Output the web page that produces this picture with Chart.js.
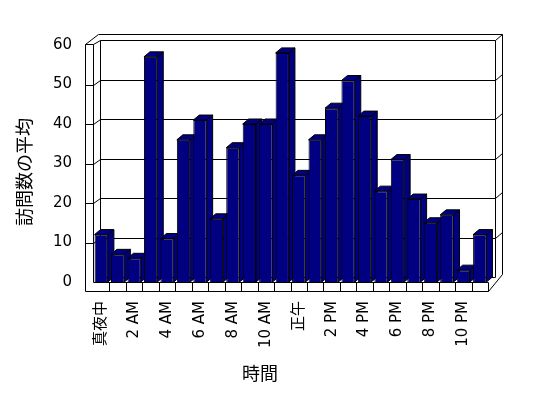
<!DOCTYPE html>
<html>
<head>
<meta charset="utf-8">
<script src="https://cdn.jsdelivr.net/npm/chart.js@4/dist/chart.umd.min.js"></script>
<style>
  html, body { margin: 0; padding: 0; background: #fff; }
  canvas { display: block; }
</style>
</head>
<body>
<canvas id="myChart" width="548" height="398"></canvas>
<script>
const hours = ['真夜中', '1 AM', '2 AM', '3 AM', '4 AM', '5 AM', '6 AM', '7 AM', '8 AM', '9 AM', '10 AM', '11 AM',
  '正午', '1 PM', '2 PM', '3 PM', '4 PM', '5 PM', '6 PM', '7 PM', '8 PM', '9 PM', '10 PM', '11 PM'];
const avgVisits = [12, 7, 6, 57, 11, 36, 41, 16, 34, 40, 40, 58, 27, 36, 44, 51, 42, 23, 31, 21, 15, 17, 3, 12];
const yTicks = [0, 10, 20, 30, 40, 50, 60];
const xTitle = '時間';
const yTitle = '訪問数の平均';

const FONT = '"DejaVu Sans", "Noto Sans CJK JP", sans-serif';
const NAVY = '#000080';

// fake 3D: walls, floor, bar tops and sides
const box3d = {
  id: 'box3d',
  beforeDatasetsDraw(chart) {
    const ctx = chart.ctx;
    const { left: L, right: R, top: T, bottom: B } = chart.chartArea;
    const ys = chart.scales.y;
    const dx = 7, dy = -5;   // back wall offset
    const ox = 502, oy = 34; // outer wall edges
    const line = (x1, y1, x2, y2) => {
      ctx.beginPath();
      ctx.moveTo(Math.round(x1) + 0.5, Math.round(y1) + 0.5);
      ctx.lineTo(Math.round(x2) + 0.5, Math.round(y2) + 0.5);
      ctx.stroke();
    };
    ctx.save();
    ctx.strokeStyle = '#000';
    ctx.lineWidth = 1;

    // back wall + top edge
    line(L + dx, T + dy, R + dx, T + dy);
    line(L + 5, oy, ox, oy);
    line(R + dx, T + dy, ox, oy);
    line(ox, oy, ox, B + dy - 3);
    line(R + dx, T + dy, R + dx, B + dy);
    // left wall
    line(L - 8, T - 1, L, T - 1);
    line(L - 8, T - 1, L + 5, oy);
    line(L, T - 1, L + dx, T + dy);
    line(L - 8, T - 1, L - 8, B + 9);
    line(L, T - 1, L, B);
    line(L + dx, T + dy, L + dx, B + dy);

    // gridlines
    yTicks.forEach(v => {
      if (v === 0 || v === 60) return;
      const yf = ys.getPixelForValue(v);
      const yb = yf + dy;
      line(L - 8, yf, L, yf);
      line(L, yf, L + dx, yb);
      line(L + dx, yb, R + dx, yb);
      line(R + dx, yb, ox, yb - 6);
    });
    line(L + dx, B + dy, R + dx, B + dy);

    // floor front face
    line(L, B, R, B);
    line(L - 8, B + 9, R, B + 9);
    line(R, B, R, B + 9);
    const slot = (R - L) / hours.length;
    for (let k = 1; k < hours.length; k++) {
      line(L + k * slot, B, L + k * slot, B + 9);
    }
    line(R, B + 9, ox, B + dy - 3);

    // bar tops and sides
    const bx = 6, by = -5;
    const meta = chart.getDatasetMeta(0);
    meta.data.forEach(bar => {
      const l = bar.x - bar.width / 2, r = bar.x + bar.width / 2;
      const t = bar.y, b = bar.base;
      ctx.fillStyle = NAVY;
      ctx.beginPath();
      ctx.moveTo(r, b); ctx.lineTo(r + bx, b + by); ctx.lineTo(r + bx, t + by); ctx.lineTo(r, t);
      ctx.closePath();
      ctx.fill(); ctx.stroke();
      ctx.beginPath();
      ctx.moveTo(l, t); ctx.lineTo(r, t); ctx.lineTo(r + bx, t + by); ctx.lineTo(l + bx, t + by);
      ctx.closePath();
      ctx.fill(); ctx.stroke();
    });
    ctx.restore();
  },
  afterDraw(chart) {
    const ctx = chart.ctx;
    ctx.save();
    ctx.fillStyle = '#000';
    ctx.font = '18px ' + FONT;
    ctx.textAlign = 'center';
    ctx.textBaseline = 'middle';
    ctx.fillText(xTitle, 260, 375);
    ctx.translate(26, 172);
    ctx.rotate(-Math.PI / 2);
    ctx.fillText(yTitle, 0, 0);
    ctx.restore();
  }
};

new Chart(document.getElementById('myChart'), {
  type: 'bar',
  data: {
    labels: hours,
    datasets: [{
      data: avgVisits,
      backgroundColor: NAVY,
      borderColor: '#000',
      borderWidth: 1,
      barPercentage: 0.81,
      categoryPercentage: 1,
    }],
  },
  options: {
    responsive: false,
    animation: false,
    layout: { padding: { top: 45, right: 60, left: 0, bottom: 0 } },
    plugins: { legend: { display: false }, tooltip: { enabled: false } },
    scales: {
      x: {
        grid: { display: false },
        border: { display: false },
        afterFit: s => { s.height = 116; },
        ticks: {
          autoSkip: false,
          minRotation: 90,
          maxRotation: 90,
          padding: 11,
          color: '#000',
          font: { family: FONT, size: 15 },
          callback: (value, i) => (i % 2 === 0 ? hours[i] : ''),
        },
      },
      y: {
        min: 0,
        max: 60,
        grid: { display: false },
        border: { display: false },
        afterFit: s => { s.width = 93; },
        afterBuildTicks: s => { s.ticks = yTicks.map(v => ({ value: v })); },
        ticks: {
          padding: 13,
          color: '#000',
          font: { family: FONT, size: 15 },
        },
      },
    },
  },
  plugins: [box3d],
});
</script>
</body>
</html>
